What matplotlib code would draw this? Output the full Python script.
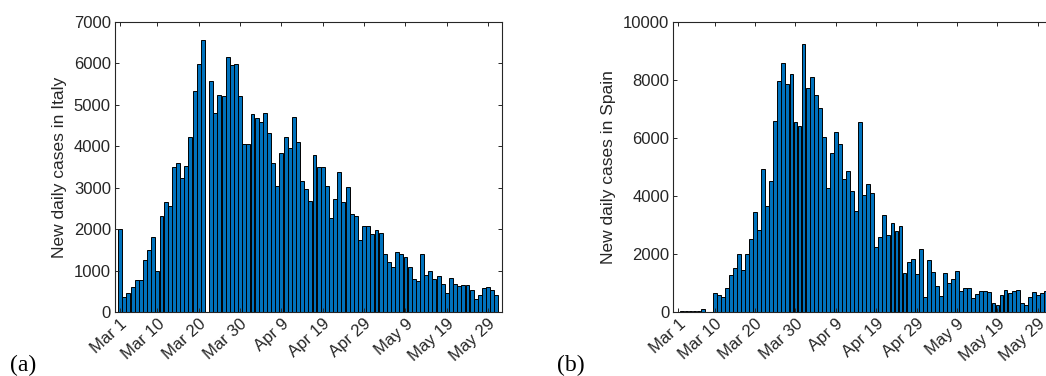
import numpy as np
import matplotlib.pyplot as plt

# new daily cases, one value per day starting Mar 1
italy = [2010, 354, 467, 595, 765, 772, 1247, 1497, 1802, 982,
         2317, 2655, 2551, 3508, 3589, 3234, 3532, 4216, 5327, 5994,
         6558, 0, 5568, 4795, 5246, 5214, 6155, 5962, 5978, 5222,
         4055, 4055, 4787, 4675, 4586, 4803, 4321, 3605, 3041, 3846,
         4216, 3959, 4699, 4095, 3154, 2977, 2671, 3790, 3492, 3492,
         3049, 2261, 2736, 3371, 2647, 3025, 2357, 2325, 1746, 2084,
         2084, 1875, 1971, 1899, 1392, 1215, 1078, 1440, 1400, 1328,
         1078, 805, 740, 1400, 885, 990, 789, 877, 668, 451,
         813, 668, 636, 644, 660, 531, 306, 402, 587, 595,
         523, 418]

spain = [15, 30, 25, 35, 30, 45, 115, 0, 0, 644,
         598, 517, 828, 1264, 1529, 2000, 1437, 2000, 2529, 3437,
         2839, 4942, 3644, 4517, 6586, 7954, 8598, 7874, 8195, 6552,
         6402, 9230, 7713, 8110, 7477, 7035, 6046, 4287, 5494, 6195,
         5781, 4586, 4850, 4184, 3494, 6540, 4046, 4414, 4115, 2230,
         2598, 3356, 2644, 3057, 2782, 2954, 1356, 1724, 1839, 1310,
         2161, 529, 1793, 1368, 897, 552, 1333, 1000, 1138, 1414,
         724, 828, 828, 471, 609, 713, 736, 690, 322, 230,
         586, 770, 667, 724, 747, 299, 241, 529, 701, 598,
         644, 713]

tick_days = [0, 9, 19, 29, 39, 49, 59, 69, 79, 89]
tick_labels = ['Mar 1', 'Mar 10', 'Mar 20', 'Mar 30', 'Apr 9',
               'Apr 19', 'Apr 29', 'May 9', 'May 19', 'May 29']

plt.rcParams['font.family'] = 'Liberation Sans'
dark = '#262626'

fig = plt.figure(figsize=(10.46, 3.76), dpi=100)


def panel(rect, values, ymax, ystep, ylabel):
    ax = fig.add_axes(rect)
    days = np.arange(len(values))
    ax.bar(days, values, width=0.95, color='#0072BD',
           edgecolor='black', linewidth=0.7)
    ax.set_xlim(-1.25, 92.25)
    ax.set_ylim(0, ymax)
    ax.set_yticks(np.arange(0, ymax + 1, ystep))
    ax.set_xticks(tick_days)
    ax.set_xticklabels(tick_labels, rotation=42, ha='right', va='top',
                       rotation_mode='anchor')
    ax.tick_params(direction='in', length=3, width=0.7, top=True, right=True,
                   labelsize=12, colors=dark, pad=3)
    for s in ax.spines.values():
        s.set_color(dark)
        s.set_linewidth(0.8)
    ax.set_ylabel(ylabel, fontsize=12.5, color=dark, labelpad=5)
    return ax


panel([115 / 1046, 64 / 376, 386.6 / 1046, 290 / 376], italy, 7000, 1000,
      'New daily cases in Italy')
panel([673.3 / 1046, 64 / 376, 377.7 / 1046, 290 / 376], spain, 10000, 2000,
      'New daily cases in Spain')

fig.text(10 / 1046, 4.5 / 376, '(a)', family='Liberation Serif', fontsize=17)
fig.text(557 / 1046, 4.5 / 376, '(b)', family='Liberation Serif', fontsize=17)

fig.savefig('out.png', dpi=100)
